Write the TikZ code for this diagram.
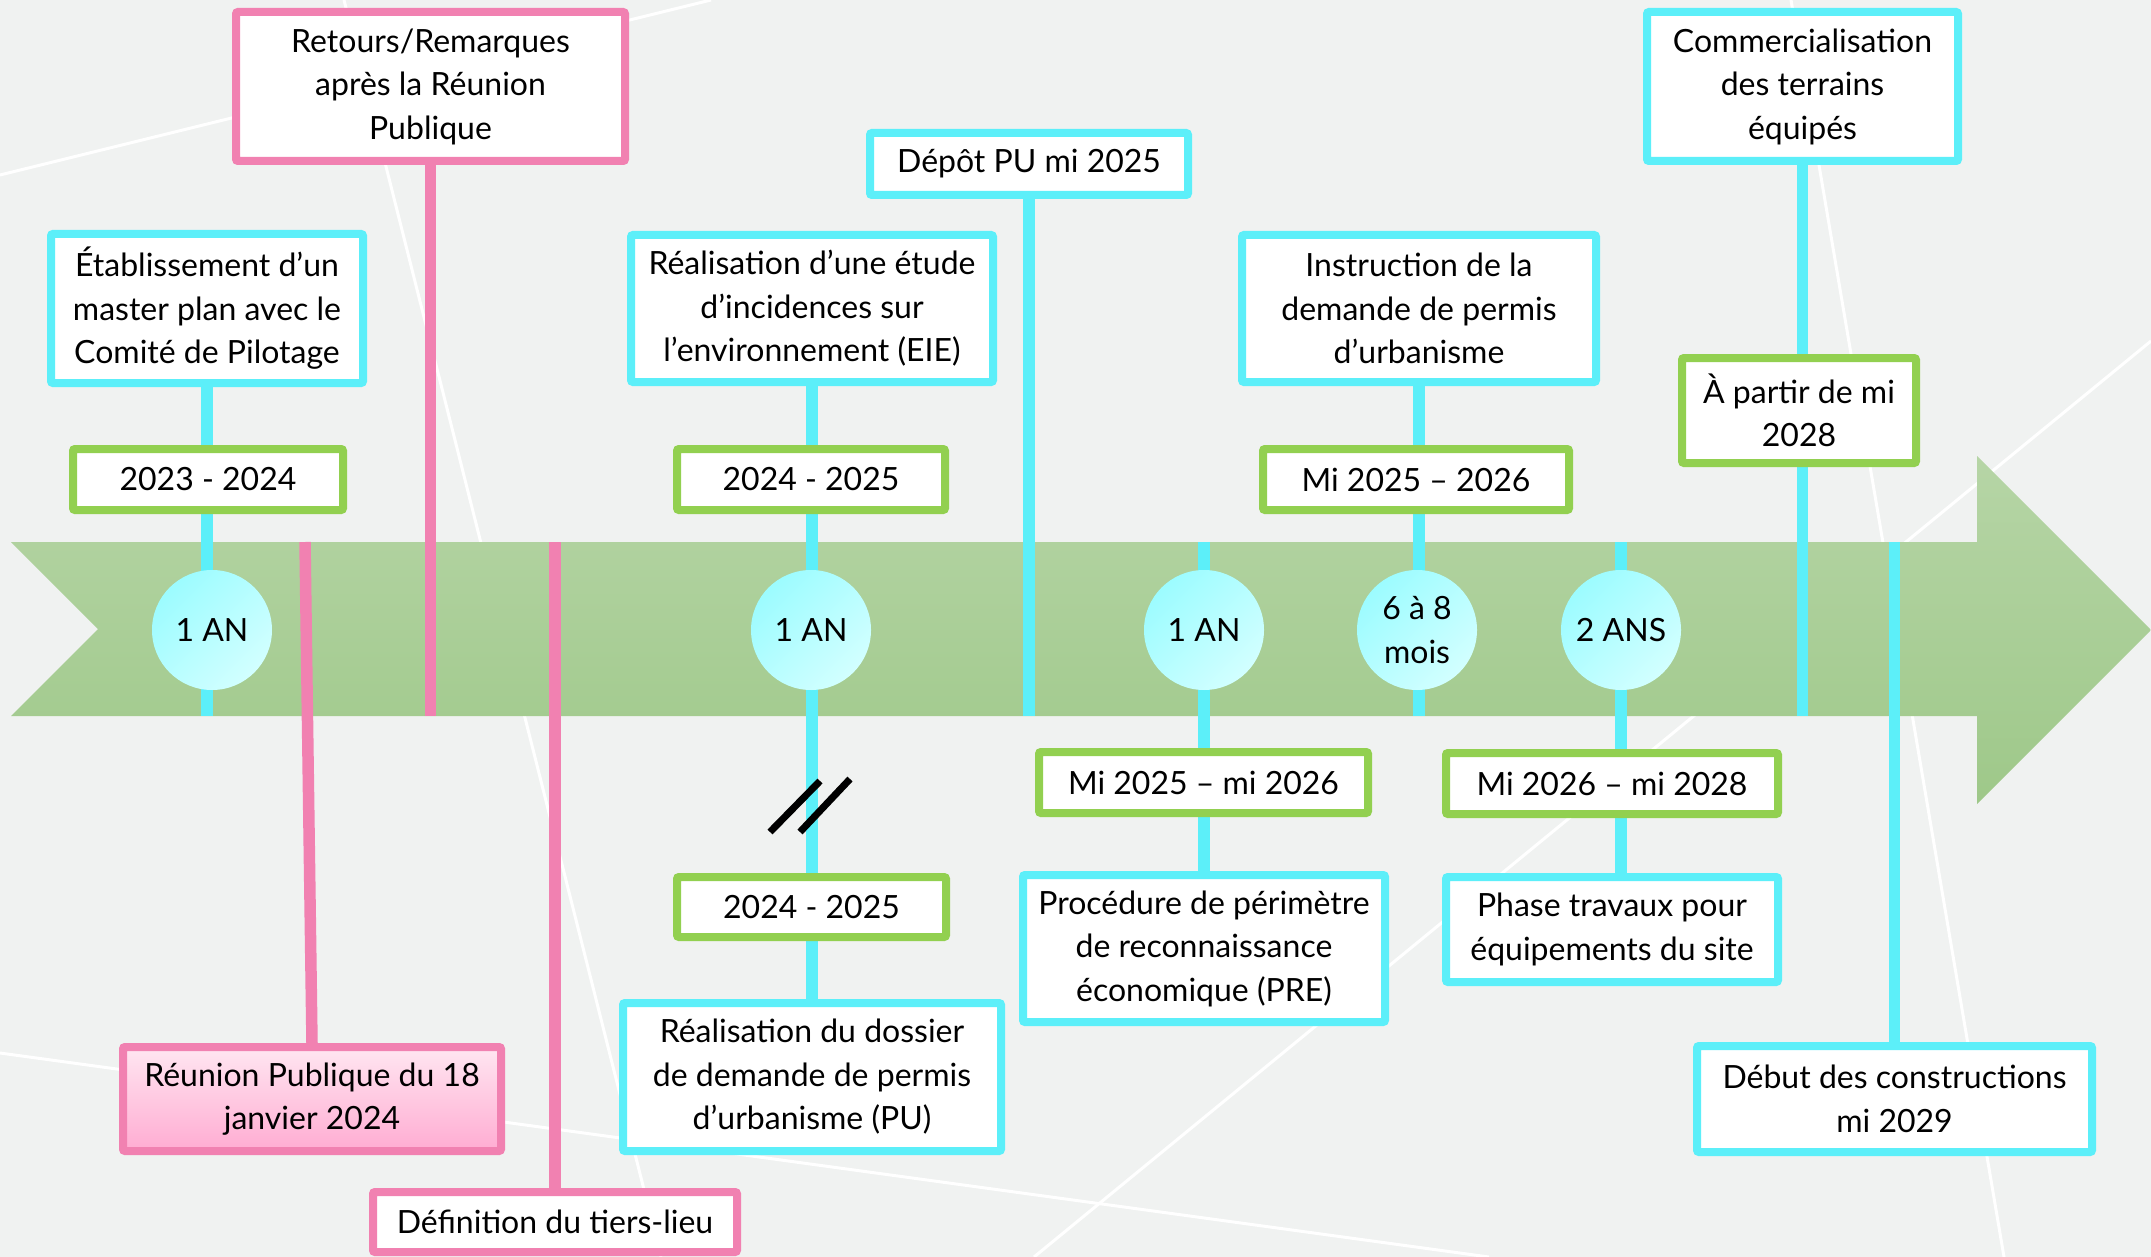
\documentclass[tikz,border=0pt]{standalone}
\usepackage{fontspec}
\setmainfont{Lato}
\usetikzlibrary{calc}
\definecolor{bgc}{RGB}{240,242,241}
\definecolor{cyanc}{RGB}{92,239,249}
\definecolor{pinkc}{RGB}{241,129,177}
\definecolor{greenc}{RGB}{146,208,80}
\definecolor{bandtop}{RGB}{182,213,166}
\definecolor{bandbot}{RGB}{158,200,137}
\definecolor{circA}{RGB}{156,252,255}
\definecolor{circB}{RGB}{210,255,255}
\definecolor{pinkA}{RGB}{255,230,241}
\definecolor{pinkB}{RGB}{255,172,210}
\pgfdeclarelayer{back}\pgfdeclarelayer{mid}\pgfsetlayers{back,mid,main}
\begin{document}
\begin{tikzpicture}[x=1pt,y=-1pt,
 txt/.style={font=\fontsize{32}{43.5}\selectfont, align=center, text=black},
 box/.style={txt, draw, line width=8pt, fill=white, inner sep=0pt, rounded corners=2pt},
 cbox/.style={box, draw=cyanc},
 gbox/.style={box, draw=greenc},
 pbox/.style={box, draw=pinkc},
 dur/.style={txt, circle, inner sep=0pt, minimum size=120pt, top color=circA, bottom color=circB, shading angle=45},
 cline/.style={cyanc, line width=11.5pt},
 pline/.style={pinkc, line width=11.5pt},
 bgline/.style={white, line width=3pt},
 slash/.style={black, line width=7pt},
]
\useasboundingbox (0,0) rectangle (2151,1257);
\coordinate (bt) at (0,542);
\coordinate (bb) at (0,716);

% boxes (outer size minus line width)
\node[cbox, minimum width=312pt, minimum height=149pt] (estab) at (207,308.5) {Établissement d’un\\master plan avec le\\Comité de Pilotage};
\node[gbox, minimum width=270pt, minimum height=61pt] (y2324) at (208,479.5) {2023 - 2024};
\node[dur] (c1) at (212,630) {1 AN};
\node[pbox, minimum width=389pt, minimum height=149pt] (retours) at (430.5,86.5) {Retours/Remarques\\après la Réunion\\Publique};
\node[pbox, top color=pinkA, bottom color=pinkB, minimum width=378pt, minimum height=104pt] (reunion) at (312,1099) {Réunion Publique du 18\\janvier 2024};
\node[pbox, minimum width=364pt, minimum height=60pt] (tiers) at (555,1222) {Définition du tiers-lieu};

\node[cbox, minimum width=362pt, minimum height=147pt] (eie) at (812,308.5) {Réalisation d’une étude\\d’incidences sur\\l’environnement (EIE)};
\node[gbox, minimum width=268pt, minimum height=61pt] (y2425a) at (811,479.5) {2024 - 2025};
\node[dur] (c2) at (811,630) {1 AN};
\node[cbox, minimum width=318pt, minimum height=62pt] (depot) at (1029,164) {Dépôt PU mi 2025};
\node[gbox, minimum width=269pt, minimum height=60pt] (y2425b) at (811.5,907) {2024 - 2025};
\node[cbox, minimum width=378pt, minimum height=148pt] (pu) at (812,1077) {Réalisation du dossier\\de demande de permis\\d’urbanisme (PU)};

\node[dur] (c3) at (1204,630) {1 AN};
\node[gbox, minimum width=329pt, minimum height=61pt] (mi2526a) at (1203.5,782.5) {Mi 2025 – mi 2026};
\node[cbox, minimum width=362pt, minimum height=147pt] (pre) at (1204,948.5) {Procédure de périmètre\\de reconnaissance\\économique (PRE)};

\node[cbox, minimum width=354pt, minimum height=147pt] (instr) at (1419,308.5) {Instruction de la\\demande de permis\\d’urbanisme};
\node[gbox, minimum width=306pt, minimum height=61pt] (mi2526) at (1416,479.5) {Mi 2025 – 2026};
\node[dur] (c4) at (1417,630) {6 à 8\\mois};

\node[dur] (c5) at (1621,630) {2 ANS};
\node[gbox, minimum width=332pt, minimum height=61pt] (mi2628) at (1612,783.5) {Mi 2026 – mi 2028};
\node[cbox, minimum width=332pt, minimum height=105pt] (travaux) at (1612,929.5) {Phase travaux pour\\équipements du site};

\node[cbox, minimum width=311pt, minimum height=149pt] (comm) at (1802.5,86.5) {Commercialisation\\des terrains\\équipés};
\node[gbox, minimum width=234pt, minimum height=105pt] (apartir) at (1799,410.5) {À partir de mi\\2028};
\node[cbox, minimum width=395pt, minimum height=106pt] (debut) at (1894.5,1099) {Début des constructions\\mi 2029};

\coordinate (rtop) at (305,542);
\coordinate (brk) at (811,806);

\begin{pgfonlayer}{back}
\fill[bgc] (0,0) rectangle (2151,1257);
\draw[bgline] (0,175) -- (711,0);
\draw[bgline] (344,0) -- (661,1257);
\draw[bgline] (0,1053) -- (1489,1257);
\draw[bgline] (1034,1257) -- (2151,341);
\draw[bgline] (1791,0) -- (2004,1257);
\shade[top color=bandtop, bottom color=bandbot] (11,542) -- (1977,542) -- (1977,456) -- (2151,630) -- (1977,804) -- (1977,716) -- (11,716) -- (98,629) -- cycle;
\end{pgfonlayer}

\begin{pgfonlayer}{mid}
\draw[cline] (estab.south) -- (estab.south |- bb);
\draw[pline] (retours.south) -- (retours.south |- bb);
\draw[pline] (rtop) -- (reunion.north);
\draw[pline] (tiers.north) -- (tiers.north |- bt);
\draw[cline] (eie.south) -- (pu.north);
\draw[cline] (depot.south) -- (depot.south |- bb);
\draw[cline] (c3.center |- bt) -- (c3.center |- pre.north);
\draw[cline] (instr.south) -- (instr.south |- bb);
\draw[cline] (c5.center |- bt) -- (c5.center |- travaux.north);
\draw[cline] (comm.south) -- (comm.south |- bb);
\draw[cline] (debut.north |- bt) -- (debut.north);
\end{pgfonlayer}

\draw[slash] ($(brk)+(-41,26)$) -- ($(brk)+(9,-25)$);
\draw[slash] ($(brk)+(-11,26)$) -- ($(brk)+(39,-27)$);
\end{tikzpicture}
\end{document}
